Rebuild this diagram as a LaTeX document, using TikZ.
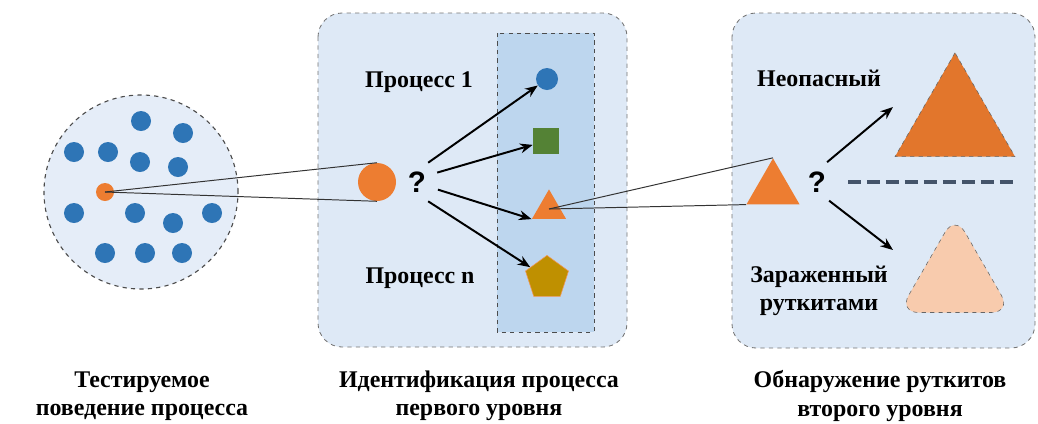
\documentclass[tikz,border=0pt]{standalone}
\usepackage{fontspec}
\setmainfont{Liberation Serif}
\newfontfamily\qfont{Liberation Sans}
\usetikzlibrary{shapes.geometric, arrows.meta}
\definecolor{dotblue}{HTML}{2E75B6}
\definecolor{dotorange}{HTML}{ED7D31}
\definecolor{darkorange}{HTML}{E2762C}
\definecolor{boxfill}{HTML}{DEE9F6}
\definecolor{colfill}{HTML}{BDD6EE}
\definecolor{sqgreen}{HTML}{548235}
\definecolor{pentgold}{HTML}{BF9000}
\definecolor{peach}{HTML}{F8CBAD}
\definecolor{sepline}{HTML}{44546A}
\tikzset{
    bluedot/.style={circle, fill=dotblue, minimum size=0.5cm, inner sep=0},
    tri/.style={regular polygon, regular polygon sides=3, inner sep=0},
    lbl/.style={font=\bfseries\fontsize{17}{20}\selectfont, align=center},
    qmark/.style={circle, minimum size=1.1cm, inner sep=0, font=\qfont\bfseries\fontsize{21}{21}\selectfont},
    fan/.style={-{Stealth[length=9pt, width=7pt]}, line width=1.4pt},
    cone/.style={draw=black!80, line width=0.7pt},
    panel/.style={draw=black!55, dashed, semithick, fill=boxfill, rounded corners=0.6cm},
}

\begin{document}
\begin{tikzpicture}[
            x=0.025cm, y=-0.025cm,
        ]
            \useasboundingbox (0, 0) rectangle (1038, 423);
            \draw[panel] (318, 13) rectangle (627, 347);
            \draw[panel] (732, 13) rectangle (1035, 348);
            \draw[draw=black!70, dashed, semithick, fill=colfill] (497, 33) rectangle (594, 332);
            \node[circle, draw=black!70, dashed, thick, fill=boxfill!80!white, minimum size=4.85cm, inner sep=0] (pool) at (141, 192) {};
            \foreach \px/\py [count=\i] in {141/121, 183/133, 74/152, 108/152, 140/162, 178/167, 74/213, 135/213, 173/223, 212/213, 105/253, 145/253, 182/253}
                \node[bluedot] (dot\i) at (\px, \py) {};
            \node[circle, fill=dotorange, minimum size=0.45cm, inner sep=0] (probe) at (105, 192) {};
            \node[circle, fill=dotorange, minimum size=0.95cm, inner sep=0] (proc) at (377, 182) {};
            \path[cone] (probe.center) edge (proc.north) (probe.center) edge (proc.south);
            \node[qmark] (quest1) at (417, 182) {?};
            \node[lbl] (proc1) at (419, 82) {Процесс 1};
            \node[lbl] (procn) at (420, 278) {Процесс n};
            \node[circle, fill=dotblue, minimum size=0.55cm, inner sep=0] (cand1) at (547, 79) {};
            \node[fill=sqgreen, minimum size=0.65cm, inner sep=0] (cand2) at (546, 141) {};
            \node[tri, fill=dotorange, minimum size=0.98cm] (cand3) at (549, 209) {};
            \node[regular polygon, regular polygon sides=5, fill=pentgold, draw=dotorange!80, minimum size=1.13cm, inner sep=0] (cand4) at (547, 278) {};
            \path[fan] (quest1.60) edge (cand1);
            \path[fan] (quest1.25) edge (cand2);
            \path[fan] (quest1.-20) edge (cand3.corner 2);
            \path[fan] (quest1.-60) edge (cand4);
            \node[tri, fill=dotorange, minimum size=1.53cm] (suspect) at (773, 189) {};
            \path[cone] (cand3.center) edge (suspect.corner 1) (cand3.center) edge (suspect.corner 2);
            \node[qmark] (quest2) at (817, 182) {?};
            \coordinate (safeend) at (893, 107);
            \coordinate (rootend) at (893, 250);
            \path[fan] (quest2.63) edge (safeend);
            \path[fan] (quest2.-57) edge (rootend);
            \node[tri, fill=darkorange, draw=black!60, dashed, minimum size=3.46cm] (benign) at (955, 122) {};
            \draw[sepline, line width=3pt, dash pattern=on 9pt off 4.5pt] (848, 182) -- (1018, 182);
            \node[tri, fill=peach, draw=black!60, dashed, rounded corners=0.5cm, minimum size=3.25cm] (infected) at (955, 280) {};
            \node[lbl] (benignlbl) at (819, 78) {Неопасный};
            \node[lbl] (infectedlbl) at (819, 291) {Зараженный\\руткитами};
            \node[lbl] (title1) at (142, 396) {Тестируемое\\поведение процесса};
            \node[lbl] (title2) at (479, 396) {Идентификация процесса\\первого уровня};
            \node[lbl] (title3) at (880, 396) {Обнаружение руткитов\\второго уровня};
        \end{tikzpicture}
\end{document}
